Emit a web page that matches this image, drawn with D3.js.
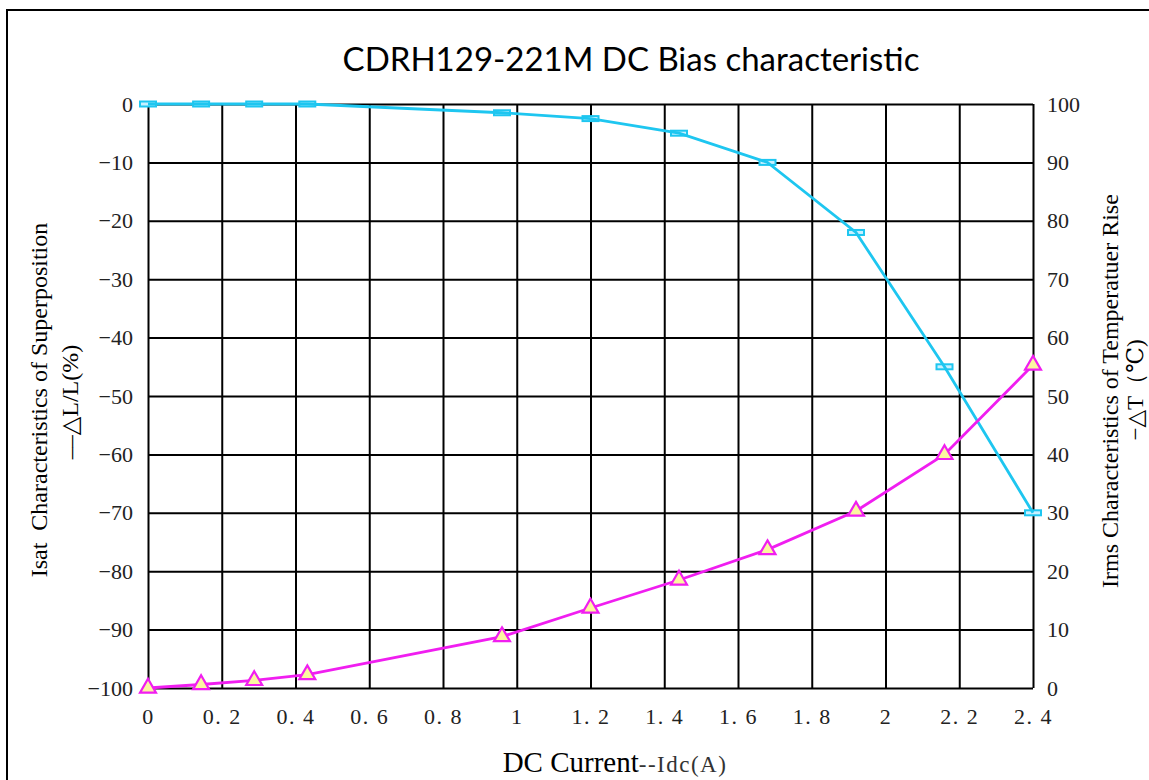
<!DOCTYPE html>
<html>
<head>
<meta charset="utf-8">
<script src="https://cdn.jsdelivr.net/npm/d3@7"></script>
<style>
	body { margin: 0; background: #fff; }
	svg { display: block; }
</style>
</head>
<body>
<svg id="chart" width="1149" height="780"></svg>
<script>
// DC current (A), shared by both curves
let current = [0, 0.144, 0.288, 0.432, 0.96, 1.2, 1.44, 1.68, 1.92, 2.16, 2.4];
// inductance change, left axis (%)
let inductance = [0, 0, 0, 0, -1.5, -2.5, -5, -10, -22, -45, -70];
// temperature rise, right axis (°C)
let temperature = [0, 0.6, 1.3, 2.3, 8.8, 13.7, 18.5, 23.7, 30.3, 40, 55.3];

let xTicks = [0, 0.2, 0.4, 0.6, 0.8, 1, 1.2, 1.4, 1.6, 1.8, 2, 2.2, 2.4];
let leftTicks = [0, -10, -20, -30, -40, -50, -60, -70, -80, -90, -100];
let rightTicks = [0, 10, 20, 30, 40, 50, 60, 70, 80, 90, 100];

let svg = d3.select("#chart");
let plotLeft = 148, plotRight = 1033, plotTop = 104, plotBottom = 688;

let x = d3.scaleLinear().domain([0, 2.4]).range([plotLeft, plotRight]);
let yLeft = d3.scaleLinear().domain([-100, 0]).range([plotBottom, plotTop]);
let yRight = d3.scaleLinear().domain([0, 100]).range([plotBottom, plotTop]);

let serif = "'Liberation Serif', 'DejaVu Serif', serif";

// outer frame
svg.append("rect")
	.attr("x", 7).attr("y", 10)
	.attr("width", 1170).attr("height", 800)
	.attr("fill", "none")
	.attr("stroke", "#000")
	.attr("stroke-width", 2);

// title
svg.append("text")
	.attr("x", 631).attr("y", 71)
	.attr("text-anchor", "middle")
	.attr("font-family", "Lato, 'Open Sans', sans-serif")
	.attr("font-size", 33)
	.attr("fill", "#000")
	.text("CDRH129-221M DC Bias characteristic");

// grid
let gridX = svg.append("g")
	.attr("transform", `translate(0,${plotBottom})`)
	.call(d3.axisBottom(x).tickValues(xTicks).tickSize(-(plotBottom - plotTop)).tickFormat(""));
let gridY = svg.append("g")
	.attr("transform", `translate(${plotLeft},0)`)
	.call(d3.axisLeft(yLeft).tickValues(leftTicks).tickSize(-(plotRight - plotLeft)).tickFormat(""));
[gridX, gridY].forEach(g => {
	g.select(".domain").remove();
	g.selectAll("line").attr("stroke", "#000").attr("stroke-width", 2);
});

// tick labels
let minus = d => d < 0 ? "\u2212" + Math.abs(d) : String(d);
let xFormat = d => Number.isInteger(d) ? String(d) : d.toFixed(1).replace(".", ". ");

let axisX = svg.append("g")
	.attr("transform", `translate(0,${plotBottom})`)
	.call(d3.axisBottom(x).tickValues(xTicks).tickSize(0).tickPadding(20).tickFormat(xFormat));
let axisL = svg.append("g")
	.attr("transform", `translate(${plotLeft},0)`)
	.call(d3.axisLeft(yLeft).tickValues(leftTicks).tickSize(0).tickPadding(15).tickFormat(minus));
let axisR = svg.append("g")
	.attr("transform", `translate(${plotRight},0)`)
	.call(d3.axisRight(yRight).tickValues(rightTicks).tickSize(0).tickPadding(14));
[axisX, axisL, axisR].forEach(g => {
	g.select(".domain").remove();
	g.selectAll("text")
		.attr("font-family", serif)
		.attr("font-size", 22)
		.attr("fill", "#222");
});
axisX.selectAll("text")
	.attr("xml:space", "preserve")
	.attr("letter-spacing", 1.5);

// axis titles
svg.append("text")
	.attr("transform", "translate(47,400) rotate(-90)")
	.attr("text-anchor", "middle")
	.attr("font-family", serif)
	.attr("font-size", 24)
	.attr("xml:space", "preserve")
	.text("Isat  Characteristics of Superposition");
svg.append("text")
	.attr("transform", "translate(78,402) rotate(-90)")
	.attr("text-anchor", "middle")
	.attr("font-family", serif)
	.attr("font-size", 24)
	.text("\u2013\u2013\u25b3L/L(%)");

svg.append("text")
	.attr("transform", "translate(1118,391) rotate(-90)")
	.attr("text-anchor", "middle")
	.attr("font-family", serif)
	.attr("font-size", 24)
	.text("Irms Characteristics of Temperatuer Rise");
svg.append("text")
	.attr("transform", "translate(1143,390) rotate(-90)")
	.attr("text-anchor", "middle")
	.attr("font-family", serif)
	.attr("font-size", 23)
	.text("\u2212\u25b3T\uff08\u2103)");

let xTitle = svg.append("text")
	.attr("x", 615).attr("y", 772)
	.attr("text-anchor", "middle")
	.attr("font-family", serif);
xTitle.append("tspan").attr("font-size", 29).attr("fill", "#000").text("DC Current");
xTitle.append("tspan").attr("font-size", 23).attr("fill", "#333").attr("letter-spacing", 1.5).text("--Idc(A)");

// inductance curve
let points = current.map((c, i) => ({ c: c, l: inductance[i], t: temperature[i] }));

svg.append("g")
	.selectAll("rect")
	.data(points)
	.join("rect")
	.attr("x", d => x(d.c) - 8)
	.attr("y", d => yLeft(d.l) - 2.5)
	.attr("width", 16)
	.attr("height", 5)
	.attr("fill", "#c8f0ff")
	.attr("stroke", "#1ec6f0")
	.attr("stroke-width", 2);

svg.append("path")
	.datum(points)
	.attr("fill", "none")
	.attr("stroke", "#1ec6f0")
	.attr("stroke-width", 2.8)
	.attr("d", d3.line().x(d => x(d.c)).y(d => yLeft(d.l)));

// temperature curve
svg.append("path")
	.datum(points)
	.attr("fill", "none")
	.attr("stroke", "#f01ef0")
	.attr("stroke-width", 2.8)
	.attr("d", d3.line().x(d => x(d.c)).y(d => yRight(d.t)));

svg.append("g")
	.selectAll("path")
	.data(points)
	.join("path")
	.attr("transform", d => `translate(${x(d.c)},${yRight(d.t)})`)
	.attr("d", d3.symbol(d3.symbolTriangle, 110))
	.attr("fill", "#fbf7a0")
	.attr("stroke", "#f01ef0")
	.attr("stroke-width", 2.2);
</script>
</body>
</html>
